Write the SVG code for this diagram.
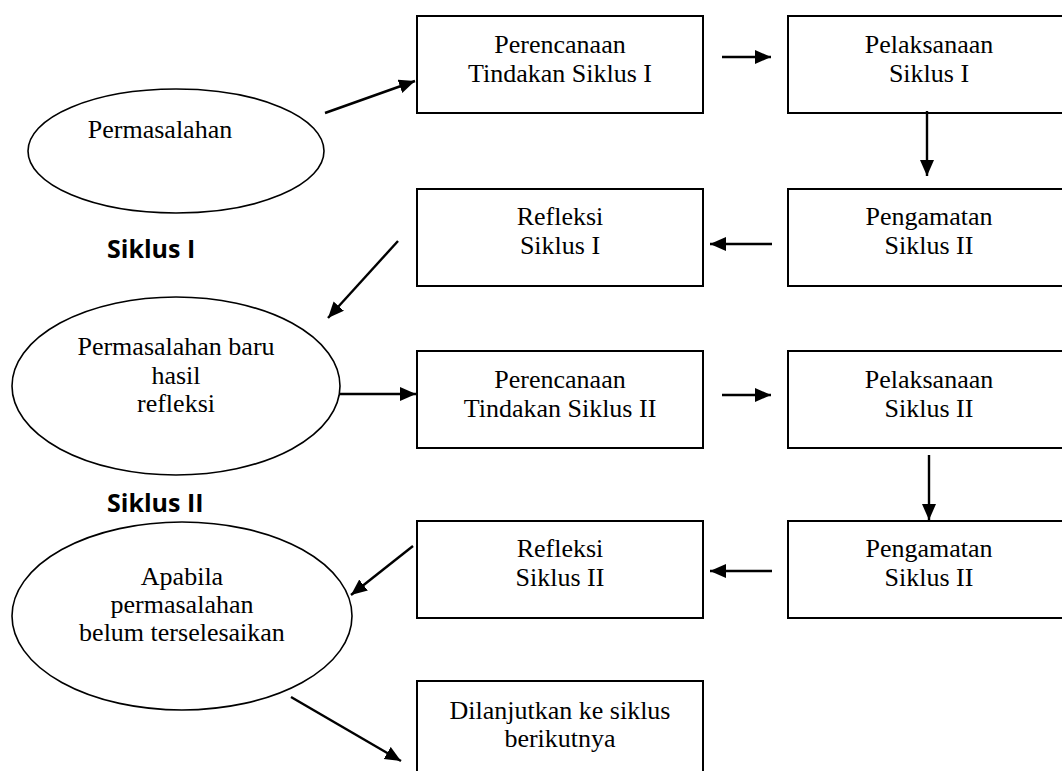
<svg xmlns="http://www.w3.org/2000/svg" width="1062" height="771" viewBox="0 0 1062 771">
<defs>
<marker id="ah" markerUnits="userSpaceOnUse" markerWidth="17" markerHeight="15" refX="16" refY="7" orient="auto">
<path d="M0,0 L16,7 L0,14 z" fill="#000"/>
</marker>
<style>
.box{fill:#fff;stroke:#000;stroke-width:2}
.ell{fill:#fff;stroke:#000;stroke-width:1.6}
.t{font-family:"Liberation Serif","Times New Roman",serif;font-size:26px;fill:#000;text-anchor:middle}
.lbl{font-family:"Open Sans","Liberation Sans",sans-serif;font-size:25px;font-weight:700;fill:#000}
.c{stroke:#000;stroke-width:2.4;fill:none;marker-end:url(#ah)}
</style>
</defs>
<rect width="1062" height="771" fill="#fff"/>

<g id="permasalahan">
<ellipse class="ell" cx="176" cy="151" rx="148" ry="62"/>
<text class="t" x="160" y="138">Permasalahan</text>
</g>

<g id="perencanaan1">
<rect class="box" x="417" y="16" width="286" height="97"/>
<text class="t" x="560" y="53">Perencanaan</text>
<text class="t" x="560" y="82">Tindakan Siklus I</text>
</g>

<g id="pelaksanaan1">
<rect class="box" x="788" y="16" width="290" height="97"/>
<text class="t" x="929" y="53">Pelaksanaan</text>
<text class="t" x="929" y="82">Siklus I</text>
</g>

<g id="pengamatan1">
<rect class="box" x="788" y="189" width="290" height="97"/>
<text class="t" x="929" y="225">Pengamatan</text>
<text class="t" x="929" y="254">Siklus II</text>
</g>

<g id="refleksi1">
<rect class="box" x="417" y="189" width="286" height="97"/>
<text class="t" x="560" y="225">Refleksi</text>
<text class="t" x="560" y="254">Siklus I</text>
</g>

<g id="label-siklus1">
<text class="lbl" x="107" y="258">Siklus I</text>
</g>

<g id="permasalahan-baru">
<ellipse class="ell" cx="176" cy="386" rx="164" ry="89"/>
<text class="t" x="176" y="355">Permasalahan baru</text>
<text class="t" x="176" y="384">hasil</text>
<text class="t" x="176" y="412">refleksi</text>
</g>

<g id="perencanaan2">
<rect class="box" x="417" y="351" width="286" height="97"/>
<text class="t" x="560" y="388">Perencanaan</text>
<text class="t" x="560" y="417">Tindakan Siklus II</text>
</g>

<g id="pelaksanaan2">
<rect class="box" x="788" y="351" width="290" height="97"/>
<text class="t" x="929" y="388">Pelaksanaan</text>
<text class="t" x="929" y="417">Siklus II</text>
</g>

<g id="label-siklus2">
<text class="lbl" x="107" y="512">Siklus II</text>
</g>

<g id="pengamatan2">
<rect class="box" x="788" y="521" width="290" height="97"/>
<text class="t" x="929" y="557">Pengamatan</text>
<text class="t" x="929" y="586">Siklus II</text>
</g>

<g id="refleksi2">
<rect class="box" x="417" y="521" width="286" height="97"/>
<text class="t" x="560" y="557">Refleksi</text>
<text class="t" x="560" y="586">Siklus II</text>
</g>

<g id="apabila">
<ellipse class="ell" cx="182" cy="616" rx="170" ry="94"/>
<text class="t" x="182" y="585">Apabila</text>
<text class="t" x="182" y="613">permasalahan</text>
<text class="t" x="182" y="641">belum terselesaikan</text>
</g>

<g id="dilanjutkan">
<rect class="box" x="417" y="681" width="286" height="100"/>
<text class="t" x="560" y="719">Dilanjutkan ke siklus</text>
<text class="t" x="560" y="747">berikutnya</text>
</g>

<g id="connectors">
<line class="c" x1="325" y1="113" x2="415" y2="81"/>
<line class="c" x1="722" y1="57" x2="771" y2="57"/>
<line class="c" x1="927" y1="111" x2="927" y2="176"/>
<line class="c" x1="772" y1="244" x2="710" y2="244"/>
<line class="c" x1="398" y1="241" x2="328" y2="318"/>
<line class="c" x1="340" y1="394" x2="416" y2="394"/>
<line class="c" x1="722" y1="395" x2="771" y2="395"/>
<line class="c" x1="929" y1="455" x2="929" y2="520"/>
<line class="c" x1="772" y1="571" x2="710" y2="571"/>
<line class="c" x1="413" y1="546" x2="351" y2="595"/>
<line class="c" x1="291" y1="697" x2="401" y2="761"/>
</g>
</svg>
